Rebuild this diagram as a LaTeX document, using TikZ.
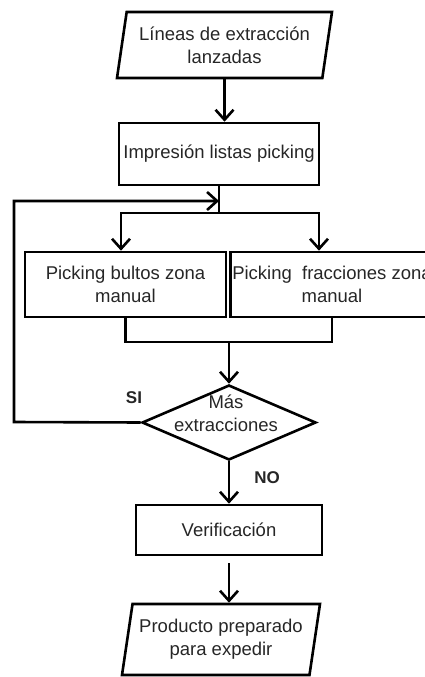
\documentclass[tikz,border=0pt]{standalone}
\usepackage{fontspec}
\setmainfont{Liberation Sans}
\usetikzlibrary{shapes.geometric,arrows.meta}
\begin{document}
\begin{tikzpicture}[x=1pt,y=-1pt,
  every node/.style={font=\fontsize{18.5}{23}\selectfont, text=black!85, align=center},
  flow/.style={line width=2.6pt},
  arr/.style={flow,-{Straight Barb[length=10pt,width=18pt]}},
  proc/.style={draw, line width=2.6pt, rectangle, inner sep=2pt},
  io/.style={draw, line width=2.6pt, trapezium, trapezium left angle=76,
    trapezium right angle=104, trapezium stretches body, inner sep=1pt},
  decision/.style={draw, line width=2.6pt, diamond, inner sep=0pt},
  answer/.style={font=\fontsize{17}{20}\selectfont\bfseries}]
\useasboundingbox (0,0) rectangle (425,677);
\clip (0,0) rectangle (425,677);

% steps of the flow
\node[io, minimum width=215pt, minimum height=66pt] (lines) at (224.5,45)
  {L\'ineas de extracci\'on\\lanzadas};
\node[proc, minimum width=200pt, minimum height=62pt] (print) at (219,154)
  {Impresi\'on listas picking};
\node[proc, minimum width=201pt, minimum height=65pt] (bulk) at (125.5,284.5)
  {Picking bultos zona\\manual};
\node[proc, minimum width=202pt, minimum height=65pt] (frac) at (332,284.5)
  {Picking\ \ fracciones zona\\manual};
\node[decision, minimum width=174pt, minimum height=75pt] (more) at (229,422.5) {};
\node (moretext) at (226,413) {M\'as\\extracciones};
\node[proc, minimum width=186pt, minimum height=50pt] (verif) at (229,530)
  {Verificaci\'on};
\node[io, minimum width=198pt, minimum height=71pt] (ready) at (221,639.5)
  {Producto preparado\\para expedir};

% branch and merge points
\coordinate (split) at (219,213);
\coordinate (splitL) at (121,213);
\coordinate (splitR) at (319,213);
\coordinate (merge) at (229,342);
\coordinate (loopA) at (14,422);
\coordinate (loopB) at (14,201);

% connectors
\draw[arr] (lines.south) -- (lines.south |- print.north);
\draw[flow] (print.south) -- (split);
\draw[arr] (split) -- (splitL) -- (splitL |- bulk.north);
\draw[arr] (split) -- (splitR) -- (splitR |- frac.north);
\draw[flow] (bulk.south) -- (bulk.south |- merge) -- (frac.south |- merge) -- (frac.south);
\draw[arr] (merge) -- (more.north);
\draw[arr] (more.west) -- (loopA) -- (loopB) -- (print.south |- loopB);
\draw[arr] (more.south) -- (verif.north);
\draw[arr, shorten <=7pt] (verif.south) -- (verif.south |- ready.north);

% answers of the decision
\node[answer] (yes) at (134,398) {SI};
\node[answer] (no) at (267,478) {NO};
\end{tikzpicture}
\end{document}
